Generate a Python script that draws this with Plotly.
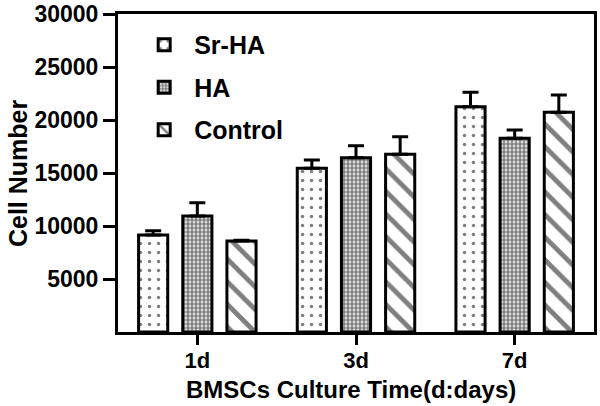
import plotly.graph_objects as go

categories = ["1d", "3d", "7d"]
series_names = ["Sr-HA", "HA", "Control"]
sr_ha = [9150, 15440, 21260]
sr_ha_err = [410, 790, 1350]
ha = [10940, 16440, 18270]
ha_err = [1260, 1140, 790]
control = [8580, 16760, 20730]
control_err = [70, 1670, 1630]
y_ticks = [5000, 10000, 15000, 20000, 25000, 30000]
y_ticktext = ["5000", "10000", "15000", "20000", "25000", "30000"]
x_title = "BMSCs Culture Time(d:days)"
y_title = "Cell Number"

patterns = [
    dict(shape=".", size=9, solidity=0.12, fgcolor="black", bgcolor="white"),
    dict(shape=".", size=4, solidity=0.7, fgcolor="black", bgcolor="white"),
    dict(shape="\\", size=16, solidity=0.3, fgcolor="black", bgcolor="white"),
]

fig = go.Figure()
for i, (name, vals, errs) in enumerate(zip(series_names, [sr_ha, ha, control], [sr_ha_err, ha_err, control_err])):
    fig.add_trace(go.Bar(
        name=name, x=categories, y=vals, legendgroup=name,
        marker=dict(color="white", line=dict(color="black", width=3), pattern=patterns[i]),
        error_y=dict(type="data", symmetric=False, array=errs, arrayminus=[0]*len(errs),
                     color="black", thickness=3, width=8),
    ))

font_family = "Liberation Sans, Arial, sans-serif"
fig.update_layout(
    width=600, height=406,
    margin=dict(l=118, r=6, t=14, b=74),
    paper_bgcolor="white", plot_bgcolor="white",
    barmode="group", bargap=0.165, bargroupgap=0.34,
    font=dict(family=font_family, size=20, color="black"),
    legend=dict(x=0.034, y=0.975, xanchor="left", yanchor="top", itemwidth=50,
                font=dict(size=25, family=font_family, color="black", weight="bold"),
                tracegroupgap=7, bgcolor="rgba(0,0,0,0)"),
    xaxis=dict(
        range=[-0.5, 2.5], showline=True, linecolor="black", linewidth=3, mirror=True,
        ticks="outside", ticklen=10, tickwidth=3, tickcolor="black", automargin=False,
        tickfont=dict(size=22, weight="bold"), ticklabelstandoff=-3,
    ),
    yaxis=dict(
        range=[0, 30000], tickvals=y_ticks, ticktext=y_ticktext, showline=True, linecolor="black",
        linewidth=3, mirror=True, automargin=False,
        ticks="outside", ticklen=12, tickwidth=3, tickcolor="black", showgrid=False, zeroline=False,
        tickfont=dict(size=23, weight="bold"),
    ),
    annotations=[
        dict(text=x_title, xref="paper", yref="paper", x=0.49, y=-0.17, xanchor="center", yanchor="middle",
             yshift=-3, showarrow=False, font=dict(size=24, weight="bold")),
        dict(text=y_title, xref="paper", yref="paper", x=-0.21, y=0.5, xanchor="center", yanchor="middle",
             textangle=-90, showarrow=False, font=dict(size=25, weight="bold")),
    ],
)
fig.write_html("out.html", config={"displayModeBar": False},
               post_script="document.body.style.margin='0';document.body.style.overflow='hidden';")
